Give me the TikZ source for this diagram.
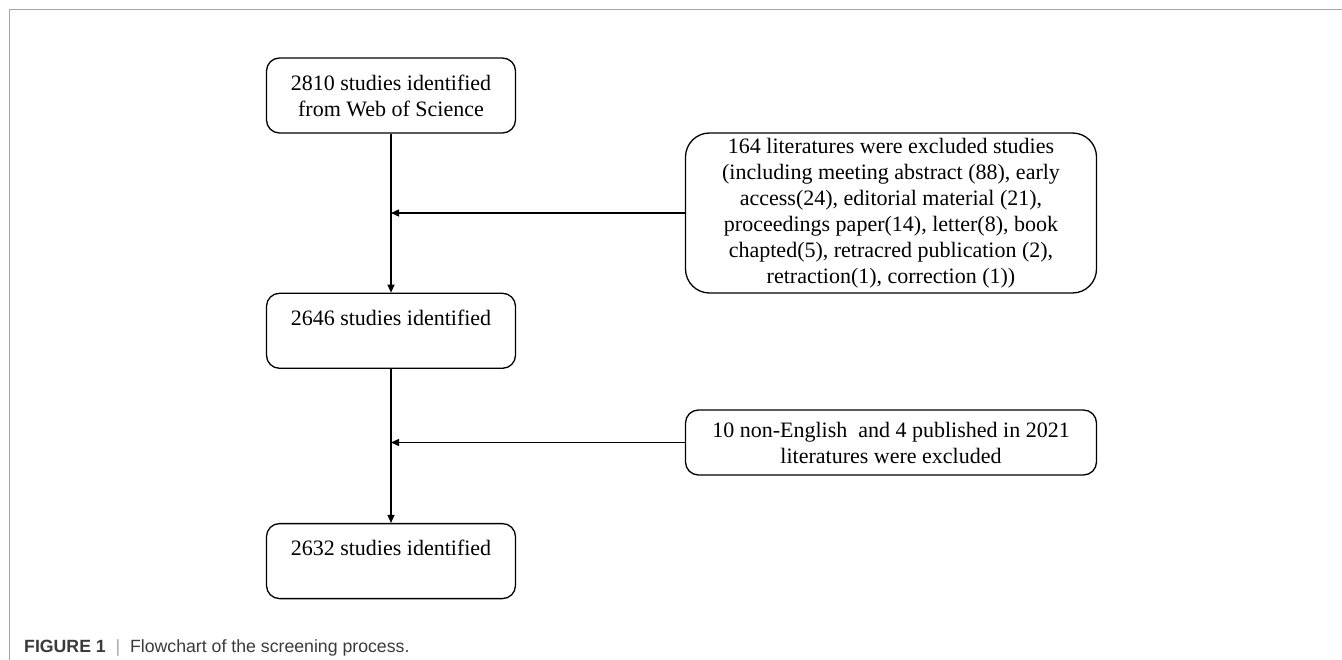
\documentclass[tikz,border=0pt]{standalone}
\usepackage{fontspec}
\setmainfont{Liberation Serif}
\newfontfamily\capfont{Liberation Sans}
\usepackage{xcolor}
\usetikzlibrary{arrows.meta,positioning}
\definecolor{framegray}{HTML}{A6A6A6}
\definecolor{captext}{HTML}{3A3A3A}

\begin{document}
\begin{tikzpicture}[x=1pt,y=-1pt,
  box/.style={draw,line width=1.3pt,rounded corners=13pt,minimum width=249pt,minimum height=75pt,align=center,inner sep=2pt,font=\fontsize{22}{26}\selectfont},
  exbox/.style={box,minimum width=411pt},
  arrow/.style={-{Triangle[length=8pt,width=7pt]},line width=1.3pt},
  node distance=159pt
]
\useasboundingbox (0,0) rectangle (1342,660);
\draw[framegray,line width=1pt] (9,660) -- (9,10) -- (1342,10);

\node[box] (wos) at (391,95.5) {2810 studies identified\\from Web of Science};
\node[box,below=of wos] (first) {2646 studies identified\\\mbox{}};
\node[box,below=154pt of first] (final) {2632 studies identified\\\mbox{}};

\node[exbox,minimum height=160pt,rounded corners=24pt] (excl1) at (891,213) {164 literatures were excluded studies\\(including meeting abstract (88), early\\access(24), editorial material (21),\\proceedings paper(14), letter(8), book\\chapted(5), retracred publication (2),\\retraction(1), correction (1))};
\node[exbox,minimum height=65pt] (excl2) at (891,442.5) {10 non-English\ \ and 4 published in 2021\\literatures were excluded};

\draw[arrow] (wos) -- (first);
\draw[arrow] (first) -- (final);
\draw[arrow] (excl1.west) -- (excl1.west -| wos.south);
\draw[arrow] (excl2.west) -- (excl2.west -| first.south);

% caption
\node[anchor=base west,inner sep=0pt,font=\capfont\fontsize{17.7}{21}\selectfont,text=captext] (cap) at (24,652) {\textbf{FIGURE 1}\ \ {\color{framegray}|}\ \ Flowchart of the screening process.};
\end{tikzpicture}
\end{document}
